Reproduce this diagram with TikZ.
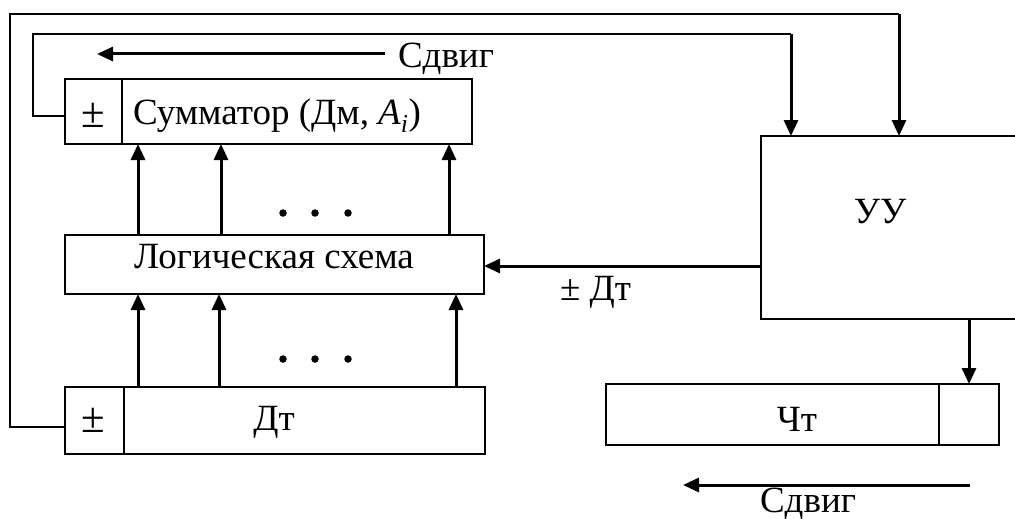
\documentclass[tikz,border=0pt]{standalone}
\usepackage{fontspec}
\setmainfont{Liberation Serif}
\usetikzlibrary{arrows.meta}
\begin{document}
\begin{tikzpicture}[x=1pt,y=-1pt,
  box/.style={draw,line width=1.6pt,inner sep=0pt,outer sep=0pt,anchor=north west},
  ghost/.style={inner sep=0pt,outer sep=0pt,anchor=north west},
  wire/.style={line width=1.6pt},
  arr/.style={line width=3pt,-{Triangle[length=16pt,width=14pt]}},
  lbl/.style={font=\fontsize{37}{40}\selectfont,inner sep=0pt,outer sep=0pt},
  pmlbl/.style={font=\fontsize{43}{46}\selectfont,inner sep=0pt,outer sep=0pt},
  dot/.style={fill=black,circle,inner sep=0pt,minimum size=7.5pt}]
\useasboundingbox (0,0) rectangle (1015,519);
% boxes
\node[box,minimum width=57pt,minimum height=65pt] (sumpm) at (65,79) {};
\node[box,minimum width=350pt,minimum height=65pt] (sum) at (122,79) {};
\node[box,minimum width=419pt,minimum height=59pt] (logic) at (65,235) {};
\node[box,minimum width=59pt,minimum height=67pt] (dtpm) at (65,387) {};
\node[box,minimum width=361pt,minimum height=67pt] (dt) at (124,387) {};
\node[ghost,minimum width=254pt,minimum height=183pt] (uu) at (761,136) {};
\draw[wire] (uu.north east) -- (uu.north west) -- (uu.south west) -- (uu.south east);
\node[box,minimum width=333pt,minimum height=61pt] (cht) at (606,384) {};
\node[box,minimum width=60pt,minimum height=61pt] (chtb) at (939,384) {};
% labels
\node[pmlbl,anchor=base] (tsumpm) at (93,128) {±};
\node[lbl,anchor=base] (tsum) at (277,124) {Сумматор (Дм, \textit{A}\textsubscript{\textit{i}})};
\node[lbl,anchor=base] (tlogic) at (274,268) {Логическая схема};
\node[pmlbl,anchor=base] (tdtpm) at (93,432) {±};
\node[lbl,anchor=base] (tdt) at (274,430) {Дт};
\node[lbl,anchor=base] (tuu) at (880,223) {УУ};
\node[lbl,anchor=base] (tcht) at (797,431) {Чт};
\node[lbl,anchor=base west] (tshift1) at (398,68) {Сдвиг};
\node[lbl,anchor=base west] (tpmdt) at (560,300) {± Дт};
\node[lbl,anchor=base] (tshift2) at (808,512) {Сдвиг};
% feedback loops
\coordinate (o1) at (10,427);
\coordinate (o2) at (10,14);
\coordinate (o3) at (899,14);
\draw[wire] (dtpm.west |- o1) -- (o1) -- (o2) -- (o3);
\draw[arr] (o3) -- (o3 |- uu.north);
\coordinate (i1) at (33,116);
\coordinate (i2) at (33,34);
\coordinate (i3) at (791,34);
\draw[wire] (sumpm.west |- i1) -- (i1) -- (i2) -- (i3);
\draw[arr] (i3) -- (i3 |- uu.north);
% shift arrows
\coordinate (s1a) at (385,54);
\coordinate (s1b) at (97,54);
\draw[arr] (s1a) -- (s1b);
\coordinate (s2a) at (970,485);
\coordinate (s2b) at (683,485);
\draw[arr] (s2a) -- (s2b);
% logic -> sum
\foreach \x in {138,221,449} {
  \draw[arr] (logic.north -| \x,0) -- (sum.south -| \x,0);
}
% dt -> logic
\foreach \x in {138,219,456} {
  \draw[arr] (dt.north -| \x,0) -- (logic.south -| \x,0);
}
% dots
\foreach \x in {283,315,348} {
  \node[dot] at (\x,213) {};
  \node[dot] at (\x,359) {};
}
% UU -> logic
\coordinate (pm) at (761,266);
\draw[arr] (uu.west |- pm) -- (logic.east |- pm);
% UU -> Cht
\draw[arr] (uu.south -| chtb.north) -- (chtb.north);
\end{tikzpicture}
\end{document}
